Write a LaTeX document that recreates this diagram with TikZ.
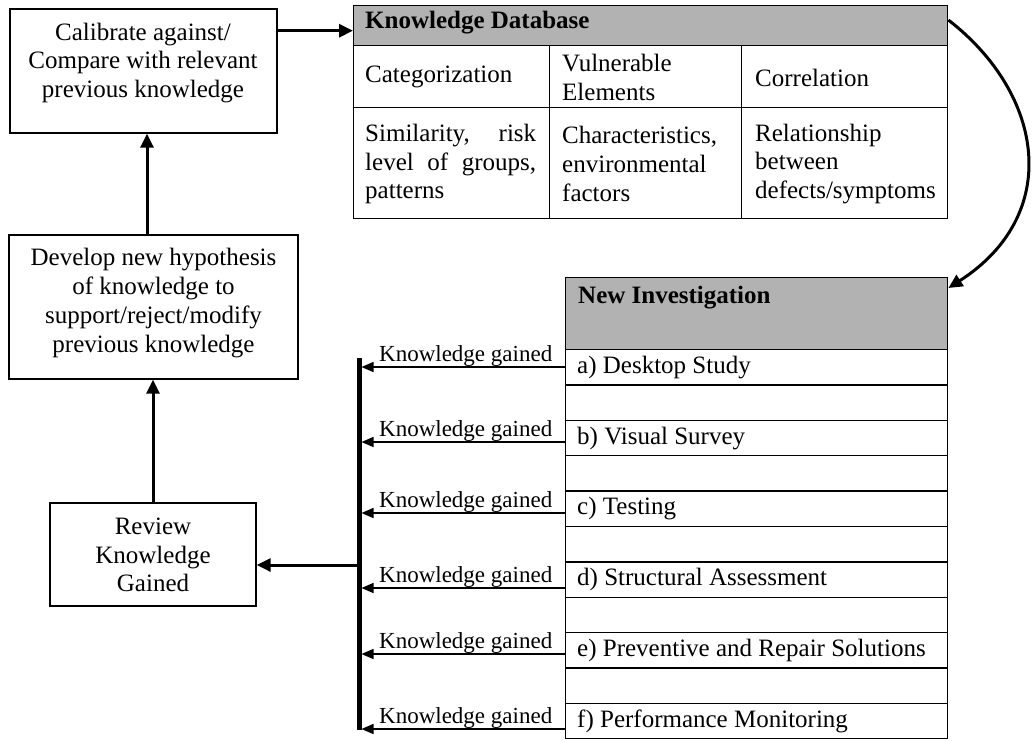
\documentclass[tikz,border=0pt]{standalone}
\usepackage{fontspec}
\setmainfont{Liberation Serif}
\usetikzlibrary{arrows.meta}
\begin{document}
\begin{tikzpicture}[x=1pt,y=-1pt,
  box/.style={draw, line width=1.3pt, inner sep=0pt},
  cell/.style={draw, line width=1.4pt, inner sep=0pt, anchor=north west},
  head/.style={cell, fill=black!30},
  txt/.style={inner sep=0pt, font=\fontsize{25}{28.75}\selectfont},
  txtb/.style={inner sep=0pt, font=\fontsize{25}{28.75}\selectfont\bfseries},
  kgtxt/.style={inner sep=0pt, anchor=base east, font=\fontsize{23}{27}\selectfont},
  arr/.style={line width=3pt, -{Triangle[length=14pt,width=13pt]}},
  kgarr/.style={line width=1.5pt, -{Triangle[length=12pt,width=10pt]}},
]
\useasboundingbox (0,0) rectangle (1033,740);

% left boxes
\node[box, minimum width=267pt, minimum height=124pt] (cal) at (143.5,71) {};
\node[txt, align=center] (calt) at (143,63) {Calibrate against/\\Compare with relevant\\previous knowledge};
\node[box, minimum width=289pt, minimum height=144pt] (dev) at (153.5,307) {};
\node[txt, align=center] (devt) at (153.5,303) {Develop new hypothesis\\of knowledge to\\support/reject/modify\\previous knowledge};
\node[box, minimum width=206pt, minimum height=103pt] (rev) at (153,554.5) {};
\node[txt, align=center] (revt) at (153,555) {Review\\Knowledge\\Gained};

% knowledge database table
\node[head, minimum width=594pt, minimum height=40pt] (kdh) at (353,5) {};
\node[txtb, anchor=west] (kdht) at (365,23) {Knowledge Database};
\node[cell, minimum width=196pt, minimum height=62pt] (c11) at (353,45) {};
\node[cell, minimum width=192pt, minimum height=62pt] (c12) at (549,45) {};
\node[cell, minimum width=206pt, minimum height=62pt] (c13) at (741,45) {};
\node[cell, minimum width=196pt, minimum height=111pt] (c21) at (353,107) {};
\node[cell, minimum width=192pt, minimum height=111pt] (c22) at (549,107) {};
\node[cell, minimum width=206pt, minimum height=111pt] (c23) at (741,107) {};
\node[txt, anchor=west] (t11) at (365,77) {Categorization};
\node[txt, anchor=west, align=left] (t12) at (562,77.5) {Vulnerable\\Elements};
\node[txt, anchor=west] (t13) at (755,78) {Correlation};
\node[txt, anchor=west, align=left] (t21) at (365,164) {\makebox[171pt][s]{Similarity, risk}\\\makebox[171pt][s]{level of groups,}\\patterns};
\node[txt, anchor=west, align=left] (t22) at (562,164) {Characteristics,\\environmental\\factors};
\node[txt, anchor=west, align=left] (t23) at (755,164) {Relationship\\between\\defects/symptoms};

% new investigation table
\node[head, minimum width=382pt, minimum height=72pt] (nih) at (565,277) {};
\node[txtb, anchor=west] (niht) at (578,298) {New Investigation};
\foreach \i in {0,...,10}
  \node[cell, minimum width=382pt, minimum height=35.36pt] (r\i) at (565,{349+\i*35.36}) {};
\node[txt, anchor=west] (ta) at ([xshift=12pt]r0.west) {a) Desktop Study};
\node[txt, anchor=west] (tb) at ([xshift=12pt]r2.west) {b) Visual Survey};
\node[txt, anchor=west] (tc) at ([xshift=12pt]r4.west) {c) Testing};
\node[txt, anchor=west] (td) at ([xshift=12pt]r6.west) {d) Structural Assessment};
\node[txt, anchor=west] (te) at ([xshift=12pt]r8.west) {e) Preventive and Repair Solutions};
\node[txt, anchor=west] (tf) at ([xshift=12pt]r10.west) {f) Performance Monitoring};

% collecting bar
\coordinate (bt) at (359,358);
\coordinate (bb) at (359,730);
\draw[line width=5pt] (bt) -- (bb);

\coordinate (ka) at (361.5,367);
\coordinate (kb) at (361.5,442);
\coordinate (kc) at (361.5,513);
\coordinate (kd) at (361.5,588);
\coordinate (ke) at (361.5,654);
\coordinate (kf) at (361.5,729);
\draw[kgarr] (r0.west |- ka) -- node[kgtxt, pos=0, xshift=-12pt, yshift=6pt] (la) {Knowledge gained} (ka);
\draw[kgarr] (r2.west |- kb) -- node[kgtxt, pos=0, xshift=-12pt, yshift=6pt] (lb) {Knowledge gained} (kb);
\draw[kgarr] (r4.west |- kc) -- node[kgtxt, pos=0, xshift=-12pt, yshift=6pt] (lc) {Knowledge gained} (kc);
\draw[kgarr] (r6.west |- kd) -- node[kgtxt, pos=0, xshift=-12pt, yshift=6pt] (ld) {Knowledge gained} (kd);
\draw[kgarr] (r8.west |- ke) -- node[kgtxt, pos=0, xshift=-12pt, yshift=6pt] (le) {Knowledge gained} (ke);
\draw[kgarr] (r10.west |- kf) -- node[kgtxt, pos=0, xshift=-12pt, yshift=6pt] (lf) {Knowledge gained} (kf);

% main arrows
\coordinate (bj) at (357,565);
\draw[arr] (bj) -- (bj -| rev.east);
\draw[arr] (rev.north) -- (rev.north |- dev.south);
\draw[arr] ([xshift=-6.5pt]dev.north) -- ([xshift=3.5pt]cal.south);
\coordinate (kdhw) at ([yshift=-5pt]kdh.west);
\draw[arr] (cal.east |- kdhw) -- (kdhw);
\draw[arr, line width=3pt] ([yshift=-15pt]kdh.north east) .. controls (1045,95) and (1062,215) .. ([yshift=-11pt]nih.north east);
\end{tikzpicture}
\end{document}
